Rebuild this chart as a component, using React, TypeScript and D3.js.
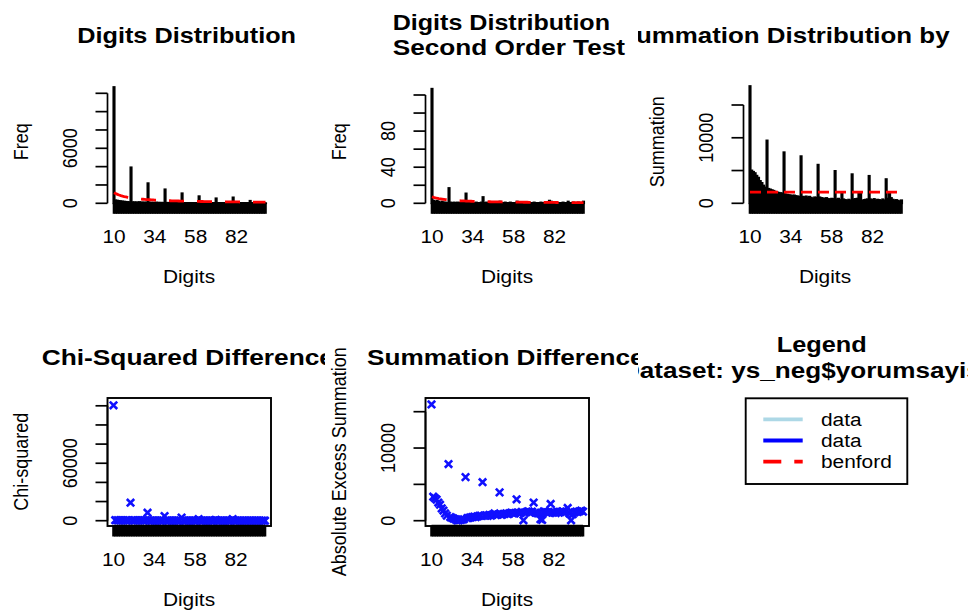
import * as d3 from 'd3';
import { type FC, type ReactNode } from 'react';

// first-two-digit categories
const digits = d3.range(10, 100);
const xTickLabels = [10, 34, 58, 82];

const freq = [
  12690, 330, 300, 270, 240, 210, 190, 170, 150, 140,
  3930, 130, 120, 115, 110, 140, 105, 100, 95, 90,
  2200, 85, 80, 80, 75, 90, 70, 68, 65, 62,
  1530, 60, 58, 56, 55, 70, 52, 50, 48, 46,
  1100, 45, 44, 42, 41, 50, 40, 38, 37, 36,
  780, 35, 34, 33, 32, 40, 31, 30, 30, 29,
  550, 28, 28, 27, 26, 32, 26, 25, 25, 24,
  650, 24, 23, 23, 22, 28, 22, 21, 21, 20,
  280, 20, 20, 19, 19, 22, 18, 18, 18, 17,
];

const benfordFreq = [
  1159, 1058, 973, 901, 839, 785, 737, 695, 657, 624,
  593, 566, 541, 518, 496, 477, 459, 442, 427, 412,
  399, 386, 374, 363, 352, 343, 333, 324, 316, 308,
  300, 293, 286, 280, 273, 267, 262, 256, 251, 246,
  241, 236, 232, 227, 223, 219, 215, 211, 208, 204,
  201, 198, 195, 191, 189, 186, 183, 180, 178, 175,
  172, 170, 168, 165, 163, 161, 159, 157, 155, 153,
  151, 149, 147, 146, 144, 142, 141, 139, 137, 136,
  134, 133, 131, 130, 129, 127, 126, 125, 123, 122,
];

const secondOrder = [
  127, 3, 2, 3, 2, 1, 2, 1, 1, 0,
  17, 1, 0, 1, 0, 1, 0, 1, 0, 0,
  11, 1, 0, 1, 0, 0, 1, 0, 0, 1,
  7, 0, 1, 0, 0, 1, 0, 0, 1, 0,
  2, 0, 0, 1, 0, 0, 1, 0, 0, 0,
  2, 0, 0, 1, 0, 0, 0, 1, 0, 0,
  1, 0, 0, 0, 1, 0, 0, 0, 1, 3,
  2, 0, 0, 1, 0, 0, 0, 1, 0, 0,
  2, 0, 0, 1, 0, 0, 1, 0, 0, 2,
];

const benfordSecond = [
  7.24, 6.61, 6.08, 5.63, 5.24, 4.91, 4.61, 4.34, 4.11, 3.9,
  3.71, 3.54, 3.38, 3.23, 3.1, 2.98, 2.87, 2.76, 2.67, 2.58,
  2.49, 2.41, 2.34, 2.27, 2.2, 2.14, 2.08, 2.03, 1.97, 1.92,
  1.88, 1.83, 1.79, 1.75, 1.71, 1.67, 1.63, 1.6, 1.57, 1.54,
  1.51, 1.48, 1.45, 1.42, 1.39, 1.37, 1.35, 1.32, 1.3, 1.28,
  1.26, 1.24, 1.22, 1.2, 1.18, 1.16, 1.14, 1.13, 1.11, 1.09,
  1.08, 1.06, 1.05, 1.03, 1.02, 1.01, 0.99, 0.98, 0.97, 0.96,
  0.94, 0.93, 0.92, 0.91, 0.9, 0.89, 0.88, 0.87, 0.86, 0.85,
  0.84, 0.83, 0.82, 0.81, 0.8, 0.8, 0.79, 0.78, 0.77, 0.76,
];

const summation = [
  17900, 5020, 4820, 4620, 4220, 3920, 3420, 3120, 2720, 2420,
  9600, 2220, 2120, 2020, 1920, 1770, 1670, 1620, 1570, 1520,
  7800, 1370, 1320, 1270, 1220, 1170, 1220, 1120, 1070, 1020,
  7200, 1020, 970, 1070, 920, 1020, 870, 720, 920, 870,
  5900, 920, 820, 770, 720, 820, 670, 620, 720, 670,
  4950, 620, 720, 520, 1670, 620, 520, 420, 570, 470,
  4450, 620, 670, 720, 1520, 1620, 420, 520, 570, 620,
  4200, 620, 520, 670, 470, 570, 520, 420, 620, 470,
  3700, 720, 1670, 820, 570, 470, 520, 420, 320, 470,
];
const benfordSum = 1720;

const chiSquared = [
  120500, 500, 470, 440, 410, 390, 360, 340, 310, 300,
  18800, 330, 310, 290, 270, 240, 260, 240, 230, 220,
  8400, 200, 190, 180, 170, 140, 160, 150, 150, 140,
  4900, 130, 130, 120, 120, 100, 110, 110, 100, 100,
  3300, 95, 90, 90, 85, 70, 80, 80, 80, 75,
  1700, 75, 70, 70, 70, 60, 65, 65, 60, 60,
  850, 60, 60, 55, 55, 50, 55, 55, 50, 50,
  1650, 50, 48, 47, 46, 45, 45, 44, 43, 43,
  160, 42, 41, 40, 40, 38, 38, 37, 37, 36,
];

const sumDifference = [
  16000, 3300, 3100, 2900, 2500, 2200, 1700, 1400, 1000, 700,
  7800, 500, 400, 300, 200, 50, 50, 100, 150, 200,
  6000, 350, 400, 450, 500, 550, 500, 600, 650, 700,
  5300, 700, 750, 650, 800, 700, 850, 1000, 800, 850,
  3900, 800, 900, 950, 1000, 900, 1050, 1100, 1000, 1050,
  2950, 1100, 1000, 1200, 50, 1100, 1200, 1300, 1150, 1250,
  2500, 1100, 1050, 1000, 200, 100, 1300, 1200, 1150, 1100,
  2300, 1100, 1200, 1050, 1250, 1150, 1200, 1300, 1100, 1250,
  1750, 1000, 50, 900, 1150, 1250, 1200, 1300, 1400, 1250,
];

const FONT = '"Liberation Sans", Arial, Helvetica, sans-serif';
const SX = 1.16;

// figure regions (columns / rows) used for clipping like R does
const colX = [0, 318, 636];
const colClip = [[0, 325], [325, 638], [638, 968]];
const rowClip = [[0, 306], [306, 612]];

const AXIS_X = 107.5;
const FIRST_X = 114;
const LAST_X = 265.5;
const BOX_R = 271;
const MID_X = 189;

type TxtProps = {
  x: number;
  y: number;
  size?: number;
  anchor?: 'start' | 'middle' | 'end';
  vertical?: boolean;
  children: ReactNode;
};

const Txt: FC<TxtProps> = ({ x, y, size = 18, anchor = 'middle', vertical = false, children }) => (
  <text
    transform={`translate(${x},${y}) scale(${SX},1)${vertical ? ' rotate(-90)' : ''}`}
    fontFamily={FONT}
    fontSize={size}
    textAnchor={anchor}
    fill='#000'
  >
    {children}
  </text>
);

// bold titles: left edge and full rendered width as measured
type TitleProps = { x: number; y: number; len: number; children: ReactNode };

const Title: FC<TitleProps> = ({ x, y, len, children }) => (
  <text
    x={x}
    y={y}
    fontFamily={FONT}
    fontSize={22}
    fontWeight='bold'
    textLength={len}
    lengthAdjust='spacingAndGlyphs'
    fill='#000'
  >
    {children}
  </text>
);

const Clip: FC<{ id: string; col: number; row: number; right?: number }> = ({ id, col, row, right }) => (
  <clipPath id={id}>
    <rect
      x={colClip[col][0]}
      y={rowClip[row][0]}
      width={(right ?? colClip[col][1]) - colClip[col][0]}
      height={rowClip[row][1] - rowClip[row][0]}
    />
  </clipPath>
);

type XAxisProps = { x: d3.ScaleLinear<number, number>; y0: number; cx: number };

const XAxis: FC<XAxisProps> = ({ x, y0, cx }) => (
  <g>
    <g stroke='#000' strokeWidth={2.6}>
      <line x1={x(10)} x2={x(99)} y1={y0} y2={y0} />
      {digits.map((d) => (
        <line key={d} x1={x(d)} x2={x(d)} y1={y0} y2={y0 + 10.5} />
      ))}
    </g>
    {xTickLabels.map((d) => (
      <Txt key={d} x={x(d)} y={y0 + 39.5}>{d}</Txt>
    ))}
    <Txt x={cx + MID_X} y={y0 + 80}>Digits</Txt>
  </g>
);

type YAxisProps = { y: d3.ScaleLinear<number, number>; ticks: number[]; labels: number[]; cx: number };

const YAxis: FC<YAxisProps> = ({ y, ticks, labels, cx }) => (
  <g>
    <g stroke='#000' strokeWidth={1.7}>
      <line x1={cx + AXIS_X} x2={cx + AXIS_X} y1={y(ticks[0])} y2={y(ticks[ticks.length - 1])} />
      {ticks.map((t) => (
        <line key={t} x1={cx + AXIS_X - 12} x2={cx + AXIS_X} y1={y(t)} y2={y(t)} />
      ))}
    </g>
    {labels.map((t) => (
      <Txt key={t} x={cx + 77} y={y(t)} vertical>{t}</Txt>
    ))}
  </g>
);

type TitleLine = { text: string; x: number; y: number; len: number };

type BarPanelProps = {
  col: number;
  titles: TitleLine[];
  clipRight?: number;
  yLabel: string;
  values: number[];
  expected: number[] | number;
  yMax: number;
  yTopPx: number;
  step: number;
  labels: number[];
  dash: string;
};

const BarPanel: FC<BarPanelProps> = ({ col, titles, clipRight, yLabel, values, expected, yMax, yTopPx, step, labels, dash }) => {
  const cx = colX[col];
  const y0 = 203.3;
  const x = d3.scaleLinear([10, 99], [cx + FIRST_X, cx + LAST_X]);
  const y = d3.scaleLinear([0, yMax], [y0, yTopPx]);
  const ticks = d3.range(0, yMax + step / 2, step);
  const bw = 1.42;
  const id = `clip-top-${col}`;

  let expPath = '';
  if (typeof expected === 'number') {
    expPath = `M${x(10)},${y(expected)}L${x(99)},${y(expected)}`;
  } else {
    const line = d3.line<number>((_d, i) => x(digits[i]), (d) => y(d));
    expPath = line(expected) ?? '';
  }

  return (
    <g>
      <defs>
        <Clip id={id} col={col} row={0} right={clipRight} />
      </defs>
      <g clipPath={`url(#${id})`}>
        {titles.map((t) => (
          <Title key={t.text} x={t.x} y={t.y} len={t.len}>{t.text}</Title>
        ))}
        <Txt x={cx + 28} y={141.7} vertical>{yLabel}</Txt>
        <YAxis y={y} ticks={ticks} labels={labels} cx={cx} />
        <g fill='#000' stroke='#000' strokeWidth={1.7}>
          {values.map((v, i) => (
            <rect key={i} x={x(digits[i]) - bw / 2} y={y(v)} width={bw} height={y0 - y(v)} />
          ))}
        </g>
        <XAxis x={x} y0={y0} cx={cx} />
        <path d={expPath} fill='none' stroke='red' strokeWidth={2.8} strokeDasharray={dash} />
      </g>
    </g>
  );
};

type PointPanelProps = {
  col: number;
  title: TitleLine;
  yLabel: string;
  values: number[];
  yMax: number;
  yTopPx: number;
  step: number;
  labels: number[];
};

const PointPanel: FC<PointPanelProps> = ({ col, title, yLabel, values, yMax, yTopPx, step, labels }) => {
  const cx = colX[col];
  const boxTop = 398;
  const boxBottom = 526;
  const x = d3.scaleLinear([10, 99], [cx + FIRST_X - 0.5, cx + LAST_X - 0.5]);
  const y = d3.scaleLinear([0, yMax], [520.7, yTopPx]);
  const ticks = d3.range(0, yMax + step / 2, step);
  const id = `clip-bottom-${col}`;
  const s = 3.7;
  const cross = `M${-s},${-s}L${s},${s}M${-s},${s}L${s},${-s}`;

  return (
    <g>
      <defs>
        <Clip id={id} col={col} row={1} />
      </defs>
      <g clipPath={`url(#${id})`}>
        <Title x={title.x} y={title.y} len={title.len}>{title.text}</Title>
        <Txt x={cx + 28} y={461.7} vertical>{yLabel}</Txt>
        <YAxis y={y} ticks={ticks} labels={labels} cx={cx} />
        <g stroke='#1010ff' strokeWidth={2.6} fill='none'>
          {values.map((v, i) => (
            <path key={i} d={cross} transform={`translate(${x(digits[i])},${y(v)})`} />
          ))}
        </g>
        <rect
          x={cx + AXIS_X}
          y={boxTop}
          width={BOX_R - AXIS_X}
          height={boxBottom - boxTop}
          fill='none'
          stroke='#000'
          strokeWidth={1.9}
        />
        <XAxis x={x} y0={boxBottom} cx={cx} />
      </g>
    </g>
  );
};

const legendItems = [
  { label: 'data', color: 'lightblue', dash: undefined },
  { label: 'data', color: 'blue', dash: undefined },
  { label: 'benford', color: 'red', dash: '18 13' },
];

const Legend: FC = () => {
  const id = 'clip-legend';
  return (
    <g>
      <defs>
        <Clip id={id} col={2} row={1} />
      </defs>
      <g clipPath={`url(#${id})`}>
        <Title x={776.7} y={351.7} len={90}>Legend</Title>
        <Title x={621} y={378.3} len={367}>Dataset: ys_neg$yorumsayisi</Title>
        <rect x={745.7} y={398.3} width={161.6} height={85.7} fill='none' stroke='#000' strokeWidth={1.9} />
        {legendItems.map((it, i) => {
          const ly = 419.3 + i * 21.2;
          return (
            <g key={i}>
              <line x1={763.3} x2={802.7} y1={ly} y2={ly} stroke={it.color} strokeWidth={3.8} strokeDasharray={it.dash} />
              <Txt x={821} y={ly + 6.5} anchor='start'>{it.label}</Txt>
            </g>
          );
        })}
      </g>
    </g>
  );
};

const App: FC = () => (
  <svg
    width={968}
    height={612}
    viewBox='0 0 968 612'
    style={{ position: 'absolute', left: 0, top: 0, background: '#fff' }}
  >
    <rect width={968} height={612} fill='#fff' />
    <BarPanel
      col={0}
      titles={[{ text: 'Digits Distribution', x: 77.3, y: 43.3, len: 218.7 }]}
      yLabel='Freq'
      values={freq}
      expected={benfordFreq}
      yMax={12000}
      yTopPx={93.3}
      step={2000}
      labels={[0, 6000]}
      dash='15 13'
    />
    <BarPanel
      col={1}
      titles={[
        { text: 'Digits Distribution', x: 392.7, y: 29.5, len: 217.3 },
        { text: 'Second Order Test', x: 392.7, y: 55, len: 232.3 },
      ]}
      yLabel='Freq'
      values={secondOrder}
      expected={benfordSecond}
      yMax={120}
      yTopPx={95}
      step={20}
      labels={[0, 40, 80]}
      dash='15 13'
    />
    <BarPanel
      col={2}
      titles={[{ text: 'Summation Distribution by Digits', x: 618.7, y: 43.3, len: 410 }]}
      clipRight={955}
      yLabel='Summation'
      values={summation}
      expected={benfordSum}
      yMax={15000}
      yTopPx={105}
      step={5000}
      labels={[0, 10000]}
      dash='11 6'
    />
    <PointPanel
      col={0}
      title={{ text: 'Chi-Squared Difference', x: 41.7, y: 365, len: 292.3 }}
      yLabel='Chi-squared'
      values={chiSquared}
      yMax={120000}
      yTopPx={405.8}
      step={20000}
      labels={[0, 60000]}
    />
    <PointPanel
      col={1}
      title={{ text: 'Summation Difference', x: 367, y: 365, len: 277.5 }}
      yLabel='Absolute Excess Summation'
      values={sumDifference}
      yMax={15000}
      yTopPx={411.7}
      step={5000}
      labels={[0, 10000]}
    />
    <Legend />
  </svg>
);

export default App;
